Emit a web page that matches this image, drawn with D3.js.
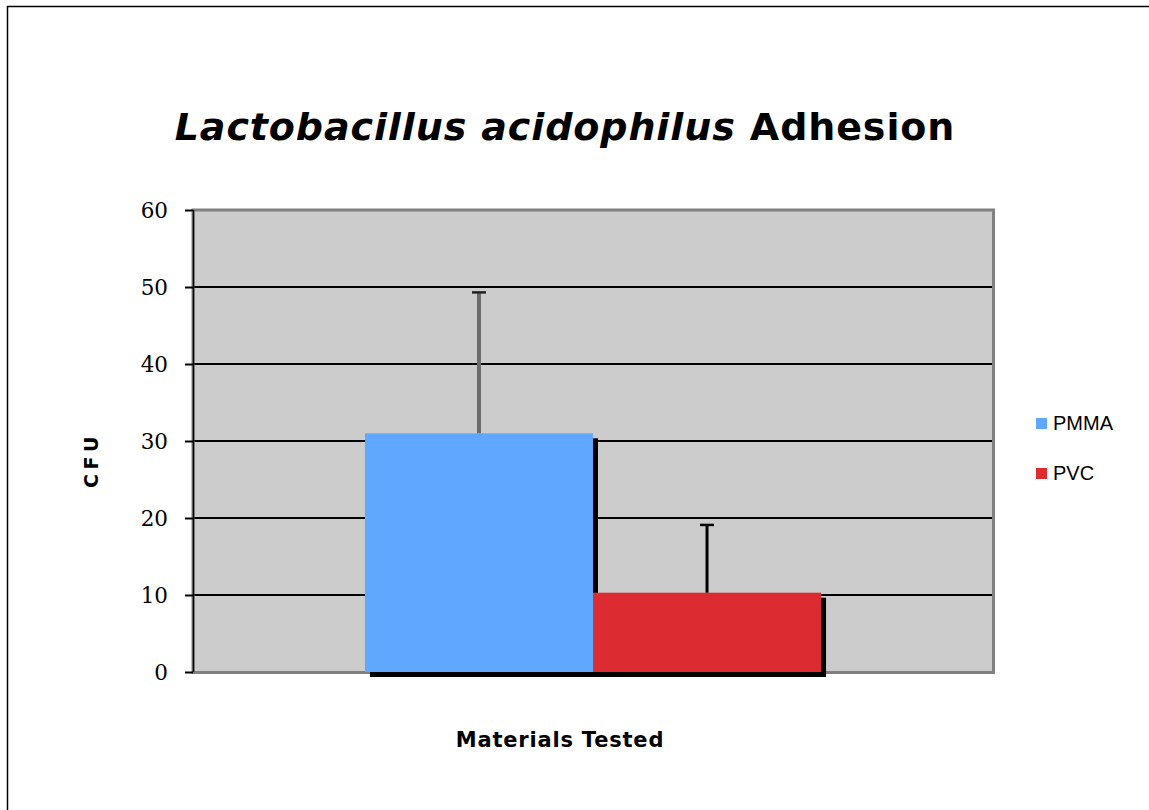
<!DOCTYPE html>
<html><head><meta charset="utf-8">
<script src="https://cdn.jsdelivr.net/npm/d3@7"></script>
<style>body{margin:0;background:#fff}svg{display:block}</style>
</head><body>
<svg id="c" width="1149" height="810"></svg>
<script>
const categories = ["Materials Tested"];
const series = ["PMMA", "PVC"];
const means = [31.0, 10.3];
const errors = [18.3, 8.8];
const colors = ["#60a8ff", "#dc2c32"];
const errColors = ["#6b6b6b", "#000000"];
const yTicks = [0, 10, 20, 30, 40, 50, 60];

const svg = d3.select("#c");
const L = 193, R = 993, T = 210, B = 672;

// outer frame (top & left visible)
svg.append("path").attr("d", "M7.5,810 V6.5 H1149").attr("fill", "none").attr("stroke", "#000").attr("stroke-width", 1.5);

const y = d3.scaleLinear().domain([0, 60]).range([B, T]);
const x0 = d3.scaleBand().domain(categories).range([L, R]).paddingInner(0).paddingOuter(0.377);
const x1 = d3.scaleBand().domain(series).range([0, x0.bandwidth()]);

// plot background
svg.append("rect").attr("x", L).attr("y", T).attr("width", R - L).attr("height", B - T).attr("fill", "#cccccc");

// gridlines
svg.append("g").selectAll("line").data(yTicks.filter(t => t > 0 && t < 60)).join("line")
  .attr("x1", L).attr("x2", R).attr("y1", d => y(d)).attr("y2", d => y(d))
  .attr("stroke", "#000").attr("stroke-width", 2);

// plot border
svg.append("rect").attr("x", L).attr("y", T).attr("width", R - L + 0.5).attr("height", B - T + 0.5)
  .attr("fill", "none").attr("stroke", "#808080").attr("stroke-width", 3);

// bars
const g = svg.append("g").attr("transform", `translate(${x0(categories[0])},0)`);
series.forEach((s, i) => {
  g.append("rect").attr("x", x1(s) + 5).attr("y", y(means[i]) + 5)
    .attr("width", x1.bandwidth()).attr("height", B - y(means[i])).attr("fill", "#000");
  g.append("rect").attr("x", x1(s)).attr("y", y(means[i]))
    .attr("width", x1.bandwidth()).attr("height", B - y(means[i])).attr("fill", colors[i]);
});

// error bars
series.forEach((s, i) => {
  const cx = x1(s) + x1.bandwidth() / 2;
  g.append("line").attr("x1", cx).attr("x2", cx).attr("y1", y(means[i])).attr("y2", y(means[i] + errors[i]))
    .attr("stroke", errColors[i]).attr("stroke-width", i === 0 ? 4 : 3);
  g.append("line").attr("x1", cx - 7).attr("x2", cx + 7).attr("y1", y(means[i] + errors[i])).attr("y2", y(means[i] + errors[i]))
    .attr("stroke", i === 0 ? "#222" : "#000").attr("stroke-width", 2.5);
});

// y axis
const yAxis = d3.axisLeft(y).tickValues(yTicks).tickSize(8).tickPadding(17).tickFormat(d3.format("d"));
const ya = svg.append("g").attr("transform", `translate(${L},0)`).call(yAxis);
ya.select(".domain").attr("stroke", "#000").attr("stroke-width", 1.5).attr("d", `M0.5,${T}V${B}`);
ya.selectAll(".tick line").attr("stroke", "#000").attr("stroke-width", 2);
ya.selectAll(".tick text").attr("font-family", "'DejaVu Serif', serif").attr("font-size", 21.5).attr("fill", "#000").attr("dy", "0.36em");

// title
const title = svg.append("text").attr("x", 565).attr("y", 140).attr("text-anchor", "middle")
  .attr("font-family", "'DejaVu Sans', Verdana, sans-serif").attr("font-size", 38).attr("font-weight", "bold")
  .attr("letter-spacing", 0.9);
title.append("tspan").attr("font-style", "italic").text("Lactobacillus acidophilus");
title.append("tspan").text(" Adhesion");

// axis titles
svg.append("text").attr("x", 560).attr("y", 747).attr("text-anchor", "middle")
  .attr("font-family", "'DejaVu Sans', Verdana, sans-serif").attr("font-size", 21).attr("font-weight", "bold")
  .attr("letter-spacing", 0.8).text("Materials Tested");
svg.append("text").attr("transform", "translate(98,460) rotate(-90)").attr("text-anchor", "middle")
  .attr("font-family", "'DejaVu Sans', Verdana, sans-serif").attr("font-size", 19).attr("font-weight", "bold")
  .attr("letter-spacing", 4.5).text("CFU");

// legend
const leg = svg.append("g").selectAll("g").data(series).join("g")
  .attr("transform", (d, i) => `translate(1036,${418 + i * 50})`);
leg.append("rect").attr("width", 11).attr("height", 11).attr("fill", (d, i) => colors[i]);
leg.append("text").attr("x", 17).attr("y", 12).attr("font-family", "'Liberation Sans', Arial, sans-serif")
  .attr("font-size", 20).text(d => d);
</script>
</body></html>
